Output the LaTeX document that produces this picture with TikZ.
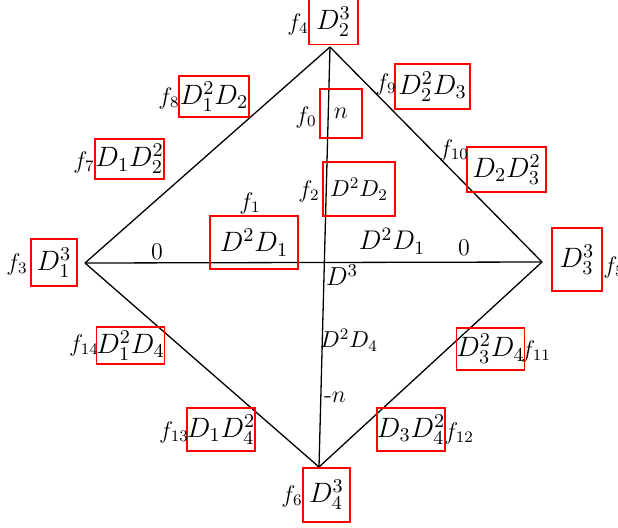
\RequirePackage{fix-cm}
\documentclass[tikz,border=0pt]{standalone}
\begin{document}
\begin{tikzpicture}[x=0.5pt,y=-0.5pt,
  box/.style={draw=red, line width=0.75pt, inner sep=0pt, font=\fontsize{14}{17}\selectfont},
  bs/.style 2 args={minimum width=#1*0.5pt, minimum height=#2*0.5pt},
  flbl/.style={inner sep=0pt, font=\fontsize{12}{14}\selectfont},
  ilbl/.style={inner sep=0pt, font=\fontsize{12}{14}\selectfont},
  edge/.style={line width=0.65pt, black}]
\useasboundingbox (0,0) rectangle (618,527);
% vertices
\coordinate (T) at (330,47);
\coordinate (L) at (85,263);
\coordinate (R) at (542,262);
\coordinate (B) at (319,467);
% connectors
\draw[edge] (T) -- (L);
\draw[edge] (T) -- (R);
\draw[edge] (B) -- (L);
\draw[edge] (B) -- (R);
\draw[edge] (T) -- (B);
\draw[edge] (L) -- (R);
% boxes
\node[box,bs={49}{45}] (b4) at (333.5,22) {$D_2^3$};
\node[box,bs={75}{45}] (b9) at (432.5,86.5) {$D_2^2D_3$};
\node[box,bs={42}{49},font=\fontsize{12}{14}\selectfont] (b0) at (341,113.5) {$n$};
\node[box,bs={70}{41}] (b8) at (214,96.5) {$D_1^2D_2$};
\node[box,bs={69}{40}] (b7) at (129.5,159) {$D_1D_2^2$};
\node[box,bs={88}{53}] (b1) at (254,242.5) {$D^2D_1$};
\node[box,bs={46}{47}] (b3) at (54,262.5) {$D_1^3$};
\node[box,bs={72}{54},font=\fontsize{11.5}{14}\selectfont] (b2) at (359,189) {$D^2D_2$};
\node[box,bs={79}{45}] (b10) at (506.5,169.5) {$D_2D_3^2$};
\node[box,bs={50}{63}] (b5) at (577,259.5) {$D_3^3$\hspace{5pt}};
\node[box,bs={67}{37}] (b14) at (130.5,345.5) {$D_1^2D_4$};
\node[box,bs={65}{42}] (b11) at (490.5,349) {$D_3^2D_4$};
\node[box,bs={64}{43}] (b13) at (221,429.5) {$D_1D_4^2$};
\node[box,bs={68}{43}] (b12) at (411,429.5) {$D_3D_4^2$};
\node[box,bs={47}{54}] (b6) at (326.5,495) {$D_4^3$};
% f labels
\node[flbl] (f4) at (298,24) {$f_4$};
\node[flbl] (f9) at (386,84) {$f_9$};
\node[flbl] (f0) at (306,117) {$f_0$};
\node[flbl] (f8) at (169,98) {$f_8$};
\node[flbl] (f7) at (84,162) {$f_7$};
\node[flbl] (f1) at (250,203) {$f_1$};
\node[flbl] (f3) at (17,264) {$f_3$};
\node[flbl] (f2) at (309,191) {$f_2$};
\node[flbl] (f10) at (454,150) {$f_{10}$};
\node[flbl] (f5) at (614,267) {$f_5$};
\node[flbl] (f14) at (84,345) {$f_{14}$};
\node[flbl] (f11) at (536,351) {$f_{11}$};
\node[flbl] (f13) at (174,432) {$f_{13}$};
\node[flbl] (f12) at (459,433) {$f_{12}$};
\node[flbl] (f6) at (292,496) {$f_6$};
% inner labels
\node[ilbl] (z1) at (157,252) {$0$};
\node[ilbl] (z2) at (464,248) {$0$};
\node[ilbl,font=\fontsize{13.5}{16}\selectfont] (d1) at (392,241) {$D^2D_1$};
\node[ilbl,font=\fontsize{13}{16}\selectfont] (d3) at (342,275) {$D^3$};
\node[ilbl,font=\fontsize{11.5}{14}\selectfont] (d4) at (349,340) {$D^2D_4$};
\node[ilbl] (mn) at (335,397) {-$n$};
\end{tikzpicture}
\end{document}
